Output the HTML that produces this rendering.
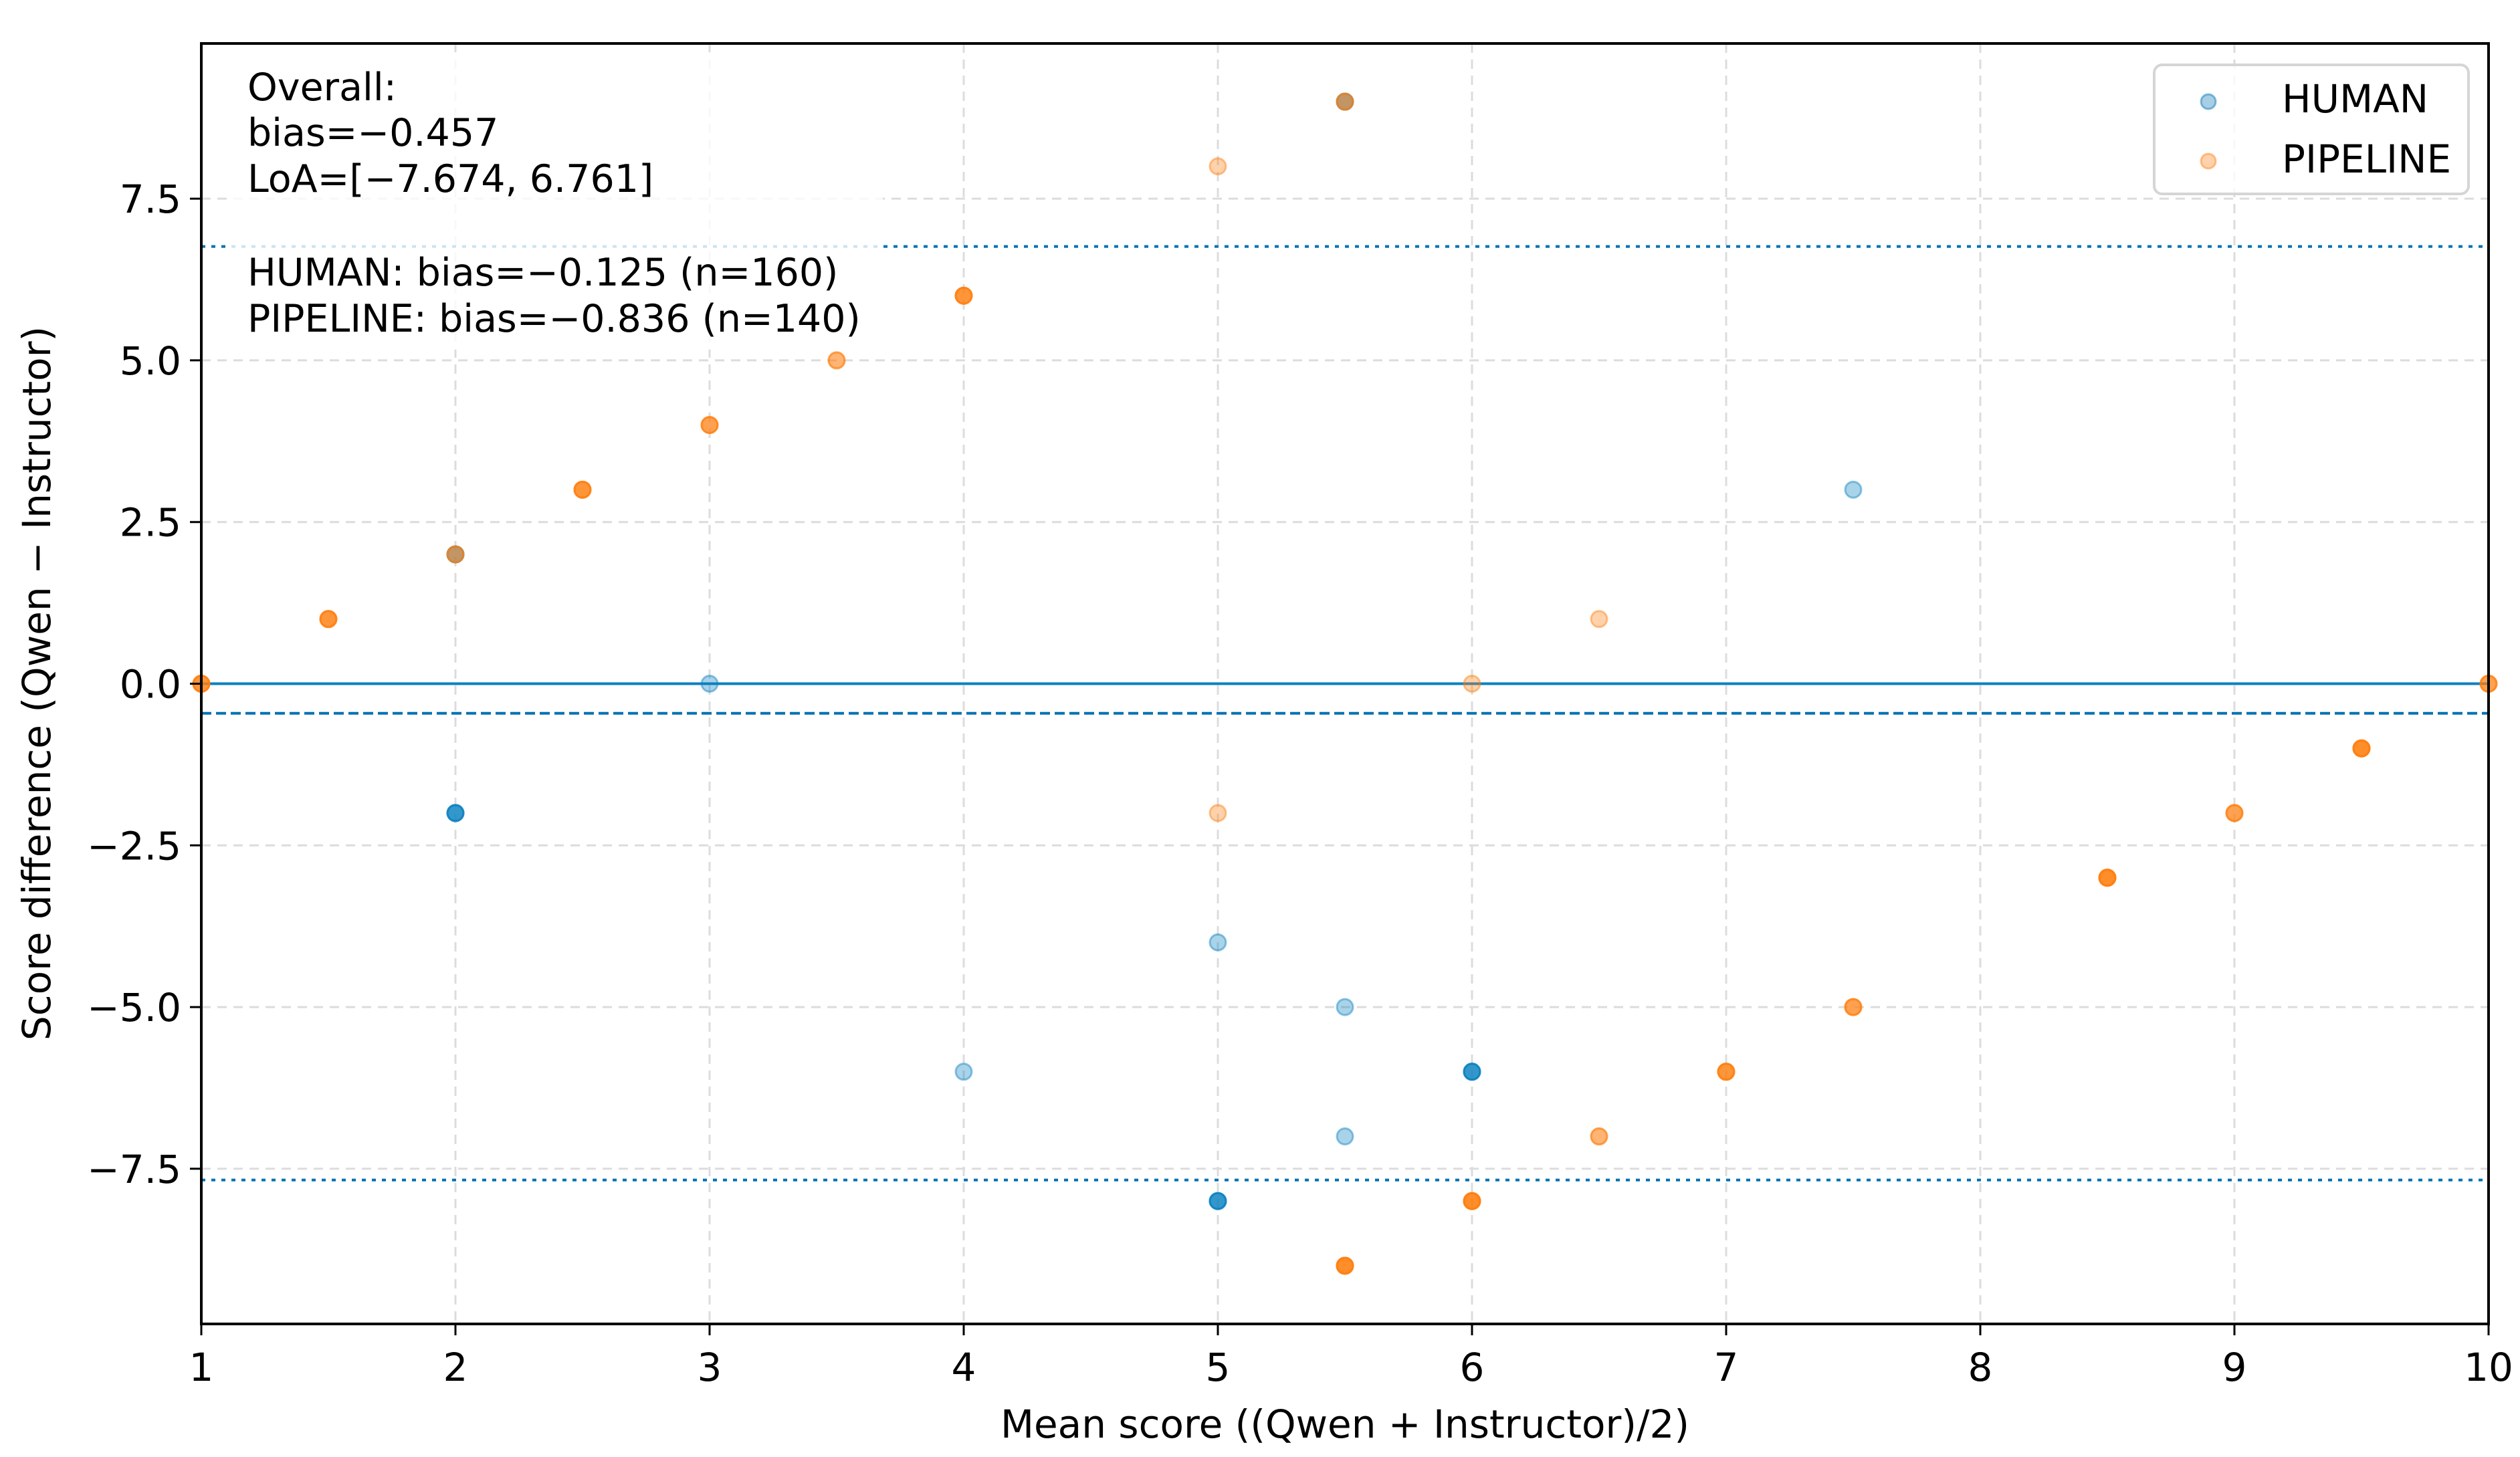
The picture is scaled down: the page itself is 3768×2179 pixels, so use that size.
<!DOCTYPE html>
<html><head><meta charset="utf-8"><style>
html,body{margin:0;padding:0;background:#fff;}
svg{display:block;font-family:"DejaVu Sans","Liberation Sans",sans-serif;}
</style></head><body>
<svg id="chart" width="3768" height="2179" viewBox="0 0 3768 2179">
<g id="grid"></g>
<g id="refl"></g>
<g id="pts"></g>
<rect x="345" y="78" width="975" height="445" fill="#fff" fill-opacity="0.8"/>
<g font-size="57" fill="#000">
<text x="370" y="150">Overall:</text>
<text x="370" y="218">bias=−0.457</text>
<text x="370" y="287">LoA=[−7.674, 6.761]</text>
<text x="370" y="427">HUMAN: bias=−0.125 (n=160)</text>
<text x="370" y="496">PIPELINE: bias=−0.836 (n=140)</text>
</g>
<rect x="301" y="65" width="3420" height="1915" fill="none" stroke="#000" stroke-width="4"/>
<g id="ticks" font-size="58"></g>
<text x="2011" y="2150" font-size="58" text-anchor="middle">Mean score ((Qwen + Instructor)/2)</text>
<text transform="translate(75,1022) rotate(-90)" font-size="58" text-anchor="middle">Score difference (Qwen − Instructor)</text>
<g>
<rect x="3221" y="97" width="470" height="193" rx="12" fill="#fff" fill-opacity="0.8" stroke="#d5d5d5" stroke-width="4"/>
<circle cx="3302" cy="152" r="11" fill="#0072B2" fill-opacity="0.35" stroke="#0072B2" stroke-opacity="0.45" stroke-width="3"/>
<text x="3412" y="168" font-size="58">HUMAN</text>
<circle cx="3302" cy="241" r="11" fill="#ff7f0e" fill-opacity="0.35" stroke="#ff7f0e" stroke-opacity="0.45" stroke-width="3"/>
<text x="3412" y="258" font-size="58">PIPELINE</text>
</g>
</svg>
<script>
const xTicks = [1,2,3,4,5,6,7,8,9,10];
const yTicks = [-7.5,-5.0,-2.5,0.0,2.5,5.0,7.5];
const yTickLabels = ["−7.5","−5.0","−2.5","0.0","2.5","5.0","7.5"];
const humanX = [2, 2, 3, 4, 5, 5, 5.5, 5.5, 5.5, 6, 7.5];
const humanY = [2, -2, 0, -6, -4, -8, 9, -5, -7, -6, 3];
const humanN = [2, 4, 1, 1, 1, 4, 2, 1, 1, 4, 1];
const pipeX = [1, 1.5, 2, 2.5, 3, 3.5, 4, 5, 5, 5.5, 5.5, 6, 6, 6.5, 6.5, 7, 7.5, 8.5, 9, 9.5, 10];
const pipeY = [0, 1, 2, 3, 4, 5, 6, 8, -2, 9, -9, -8, 0, 1, -7, -6, -5, -3, -2, -1, 0];
const pipeN = [4, 4, 2, 4, 3, 2, 4, 1, 1, 2, 5, 5, 1, 1, 2, 4, 3, 5, 3, 5, 3];
const bias = -0.457, loaLow = -7.674, loaHigh = 6.761;

const X0=301, X1=3721, Y0=65, Y1=1980, xmin=1, xmax=10, ymin=-9.9, ymax=9.9;
const sx = v => X0 + (v-xmin)/(xmax-xmin)*(X1-X0);
const sy = v => Y1 - (v-ymin)/(ymax-ymin)*(Y1-Y0);
const NS="http://www.w3.org/2000/svg";
function mk(tag, attrs, parent){const e=document.createElementNS(NS,tag);for(const k in attrs)e.setAttribute(k,attrs[k]);parent.appendChild(e);return e;}
const grid=document.getElementById('grid'), ticks=document.getElementById('ticks');
xTicks.forEach(t=>{
  const g=mk('line',{x1:sx(t),x2:sx(t),y1:Y0,y2:Y1,stroke:'#dcdcdc','stroke-width':3,'stroke-dasharray':'14,10'},grid);
  
  
  const tk=mk('line',{x1:sx(t),x2:sx(t),y1:Y1,y2:Y1+17,stroke:'#000','stroke-width':3},ticks);
  
  
  const tl=mk('text',{x:sx(t),y:Y1+85,'text-anchor':'middle'},ticks);
  tl.textContent=t;
  
  
});
yTicks.forEach((t,i)=>{
  const g=mk('line',{x1:X0,x2:X1,y1:sy(t),y2:sy(t),stroke:'#dcdcdc','stroke-width':3,'stroke-dasharray':'14,10'},grid);
  
  
  const tk=mk('line',{x1:X0-17,x2:X0,y1:sy(t),y2:sy(t),stroke:'#000','stroke-width':3},ticks);
  
  
  const tl=mk('text',{x:X0-30,y:sy(t)+21,'text-anchor':'end'},ticks);
  tl.textContent=yTickLabels[i];
  
  
});
const refl=document.getElementById('refl');
const l0=mk('line',{x1:X0,x2:X1,y1:sy(0),y2:sy(0),stroke:'#0a80c0','stroke-width':4},refl);


const lb=mk('line',{x1:X0,x2:X1,y1:sy(bias),y2:sy(bias),stroke:'#0072B2','stroke-width':4,'stroke-dasharray':'15,7'},refl);


[loaLow,loaHigh].forEach(v=>{
  const l=mk('line',{x1:X0,x2:X1,y1:sy(v),y2:sy(v),stroke:'#0072B2','stroke-width':4,'stroke-dasharray':'6,9'},refl);
  
  
});
const pts=document.getElementById('pts');
function drawSeries(xs,ys,ns,col,name){
  xs.forEach((x,i)=>{
    for(let k=0;k<ns[i];k++){
      const c=mk('circle',{cx:sx(x),cy:sy(ys[i]),r:12,fill:col,'fill-opacity':0.35,stroke:col,'stroke-opacity':0.45,'stroke-width':3},pts);
      
      
    }
  });
}
drawSeries(humanX,humanY,humanN,'#0a80c0','human-point');
drawSeries(pipeX,pipeY,pipeN,'#ff7f0e','pipeline-point');
</script>
</body></html>
